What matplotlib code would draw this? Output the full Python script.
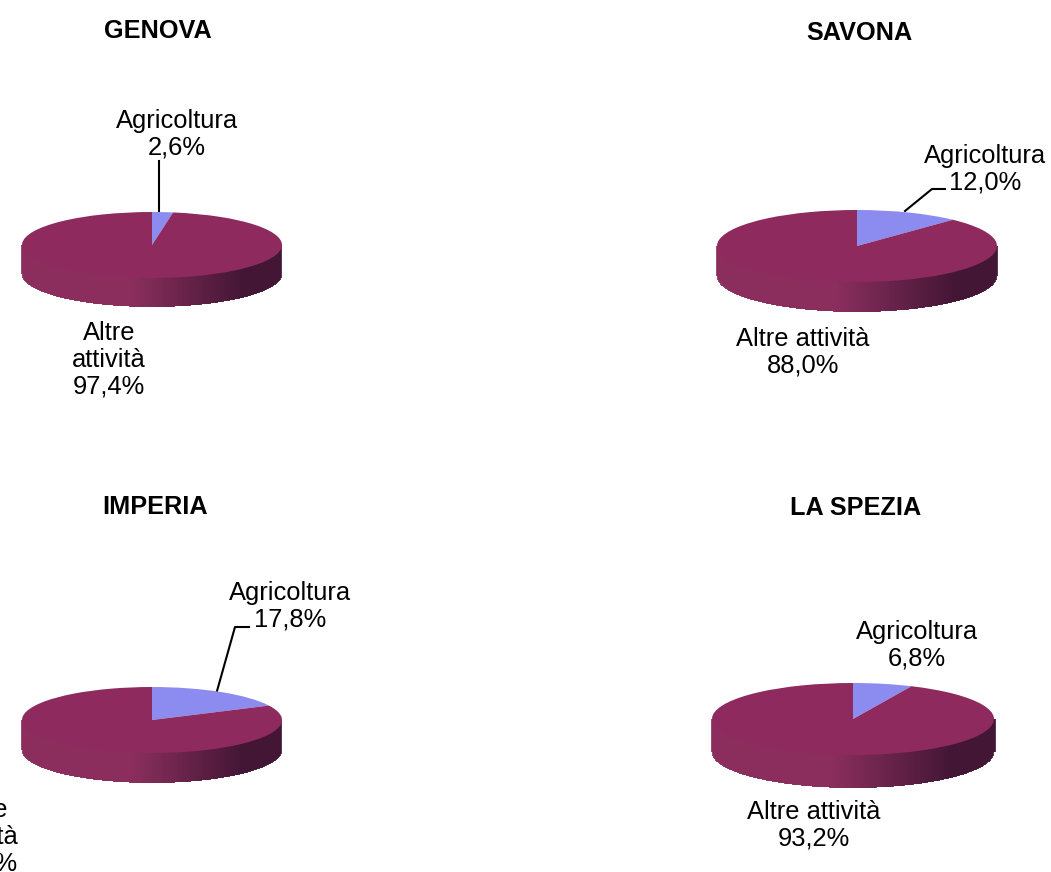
import matplotlib
matplotlib.use('Agg')
import matplotlib.pyplot as plt
import numpy as np

plt.rcParams['font.family'] = ['Liberation Sans', 'DejaVu Sans']

W, H = 1051, 872

provinces = ['GENOVA', 'SAVONA', 'IMPERIA', 'LA SPEZIA']
agricoltura = [2.6, 12.0, 17.8, 6.8]
altre = [97.4, 88.0, 82.2, 93.2]
agri_labels = ['Agricoltura\n2,6%', 'Agricoltura\n12,0%', 'Agricoltura\n17,8%', 'Agricoltura\n6,8%']
altre_labels = ['Altre\nattività\n97,4%', 'Altre attività\n88,0%', 'Altre\nattività\n82,2%', 'Altre attività\n93,2%']

# pixel layout: centre x, centre y, rx, ry, depth, clip right
pies = [(152, 245, 130, 33, 29, 281),
        (857, 246, 140, 36, 30, 997),
        (152, 720, 130, 33, 30, 281),
        (853, 719, 141, 36, 33, 995)]
title_pos = [(158, 31), (859, 33), (155, 507), (856, 508)]
agri_pos = [(177, 134), (985, 169), (290, 606), (917, 645)]
altre_pos = [(109, 360), (803, 352), (-18, 837), (814, 825)]
leaders = [[(159, 161), (159, 211)],
           [(945, 189), (932, 189), (905, 211)],
           [(249, 627), (235, 627), (217, 691)],
           None]

COL_TOP = '#8e2a5e'
COL_AGRI = '#8c8cf0'
COL_SIDE_L = '#88295a'
COL_SIDE_R = '#3e1030'

fig = plt.figure(figsize=(W / 100, H / 100), dpi=100, facecolor='white')
bg = fig.add_axes([0, 0, 1, 1])
bg.set_xlim(0, W)
bg.set_ylim(H, 0)
bg.axis('off')

for i, (cx, cy, rx, ry, depth, xclip) in enumerate(pies):
    # side wall, darkening towards the right
    xs = np.arange(cx - rx, xclip + 1)
    u = np.clip((xs - cx + rx) / (2 * rx), 0, 1)
    edge = ry * np.sqrt(np.clip(1 - ((xs - cx) / rx) ** 2, 0, 1))
    c0 = np.array(matplotlib.colors.to_rgb(COL_SIDE_L))
    c1 = np.array(matplotlib.colors.to_rgb(COL_SIDE_R))
    for x, t, e in zip(xs, u, edge):
        t2 = np.clip((t - 0.42) / 0.43, 0, 1)
        bg.plot([x, x], [cy, cy + e + depth], color=c0 + (c1 - c0) * t2, lw=1.2,
                solid_capstyle='butt', zorder=1)

    # top face, a real pie squashed into an ellipse
    ax = fig.add_axes([(cx - rx) / W, 1 - (cy + ry) / H, (xclip - cx + rx) / W, 2 * ry / H])
    ax.pie([agricoltura[i], altre[i]], colors=[COL_AGRI, COL_TOP], startangle=90,
           counterclock=False, radius=1)
    ax.set_aspect('auto')
    ax.set_xlim(-1, (xclip - cx) / rx)
    ax.set_ylim(-1, 1)
    ax.patch.set_alpha(0)
    ax.axis('off')

    bg.text(*title_pos[i], provinces[i], fontsize=18.2, fontweight='bold', ha='center', va='center')
    bg.text(*agri_pos[i], agri_labels[i], fontsize=18.4, ha='center', va='center', linespacing=1.15, zorder=5)
    bg.text(*altre_pos[i], altre_labels[i], fontsize=18.4, ha='center', va='center', linespacing=1.15, zorder=5)
    if leaders[i] is not None:
        lx, ly = zip(*leaders[i])
        bg.plot(lx, ly, color='black', lw=1.5, zorder=5)

fig.savefig('out.png', dpi=100, facecolor='white')
